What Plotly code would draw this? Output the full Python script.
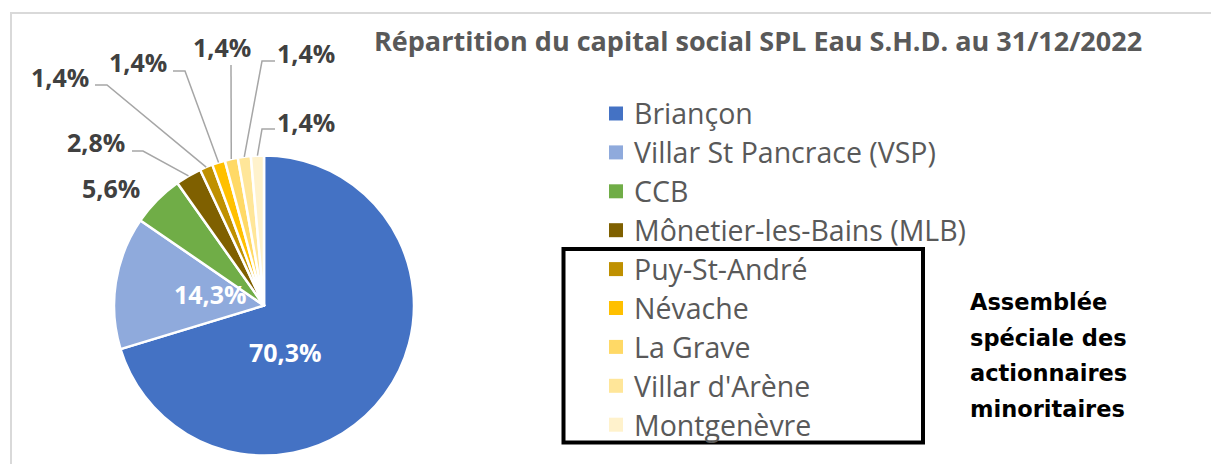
import math
import plotly.graph_objects as go

# ---------------- data ----------------
categories = [
    "Briançon",
    "Villar St Pancrace (VSP)",
    "CCB",
    "Mônetier-les-Bains (MLB)",
    "Puy-St-André",
    "Névache",
    "La Grave",
    "Villar d'Arène",
    "Montgenèvre",
]
shares = [70.3, 14.3, 5.6, 2.8, 1.4, 1.4, 1.4, 1.4, 1.4]
colors = ["#4472C4", "#8FAADC", "#70AD47", "#7F6000", "#BF9000",
          "#FFC000", "#FFD966", "#FFE699", "#FFF2CC"]
title_text = "Répartition du capital social SPL Eau S.H.D. au 31/12/2022"
note_lines = ["Assemblée", "spéciale des", "actionnaires", "minoritaires"]

# ---------------- layout helpers (pixels -> paper) ----------------
W, H = 1219, 464
OFF = 8  # page body margin
CX, CY, R = 264, 305.5, 150


def px(x):
    return (x - OFF) / W


def py(y):
    return 1 - (y - OFF) / H


# label centres (pixels) and leader line (start, elbow) per slice
label_pos = [(285, 352), (210, 294), (111, 188), (96, 142), (60, 77),
             (138, 62), (222, 47), (306, 53), (306, 122)]
leaders = [None, None, None,
           ((132, 151), (143, 151)),
           ((95, 85), (107, 85)),
           ((173, 71), (185, 71)),
           ((231, 65), (231, 65)),
           ((275, 61), (262, 61)),
           ((275, 129), (262, 129))]
label_colors = ["white", "white"] + ["#404040"] * 7

fig = go.Figure()
fig.add_trace(go.Pie(
    labels=categories,
    values=shares,
    sort=False,
    direction="clockwise",
    rotation=0,
    marker=dict(colors=colors, line=dict(color="white", width=2.5)),
    textinfo="none",
    hoverinfo="label+percent",
    showlegend=False,
    domain=dict(x=[px(CX - R), px(CX + R)], y=[py(CY + R), py(CY - R)]),
))

shapes = []
annotations = []

# frame
shapes.append(dict(type="rect", xref="paper", yref="paper",
                   x0=px(11), y0=py(13), x1=px(1300), y1=py(520),
                   line=dict(color="#D9D9D9", width=2)))

# percentage labels + leader lines
total = sum(shares)
cum = 0.0
for i, v in enumerate(shares):
    mid = (cum + v / 2) / total
    cum += v
    theta = 2 * math.pi * mid
    ax = CX + R * math.sin(theta)
    ay = CY - R * math.cos(theta)
    txt = ("%.1f" % v).replace(".", ",") + "%"
    lx, ly = label_pos[i]
    annotations.append(dict(x=px(lx), y=py(ly), xref="paper", yref="paper",
                            text="<b>%s</b>" % txt, showarrow=False,
                            xanchor="center", yanchor="middle",
                            font=dict(family="Open Sans", size=25,
                                      color=label_colors[i])))
    if leaders[i] is not None:
        (sx, sy), (ex, ey) = leaders[i]
        path = "M %f %f L %f %f L %f %f" % (px(sx), py(sy), px(ex), py(ey),
                                             px(ax), py(ay))
        shapes.append(dict(type="path", xref="paper", yref="paper", path=path,
                           line=dict(color="#A6A6A6", width=1.5)))

# legend (custom, built from categories / colors)
for i, (cat, col) in enumerate(zip(categories, colors)):
    yc = 113.5 + i * 38.9
    shapes.append(dict(type="rect", xref="paper", yref="paper",
                       x0=px(609), x1=px(623), y0=py(yc - 7), y1=py(yc + 7),
                       fillcolor=col, line=dict(width=0)))
    annotations.append(dict(x=px(632), y=py(yc), xref="paper", yref="paper",
                            text=cat, showarrow=False,
                            xanchor="left", yanchor="middle",
                            font=dict(family="Open Sans", size=28.5,
                                      color="#595959")))

# black box around minority shareholders
shapes.append(dict(type="rect", xref="paper", yref="paper",
                   x0=px(563.5), x1=px(923), y0=py(442.5), y1=py(249),
                   line=dict(color="black", width=4)))

# note text
for j, line in enumerate(note_lines):
    annotations.append(dict(x=px(968), y=py(302 + j * 35.5), xref="paper",
                            yref="paper", text="<b>%s</b>" % line,
                            showarrow=False, xanchor="left", yanchor="middle",
                            font=dict(family="DejaVu Sans", size=22.5,
                                      color="black")))

# title
annotations.append(dict(x=px(758), y=py(40), xref="paper", yref="paper",
                        text="<b>%s</b>" % title_text, showarrow=False,
                        xanchor="center", yanchor="middle",
                        font=dict(family="Open Sans", size=27,
                                  color="#595959")))

fig.update_layout(
    width=W, height=H,
    margin=dict(l=0, r=0, t=0, b=0),
    paper_bgcolor="white",
    plot_bgcolor="white",
    shapes=shapes,
    annotations=annotations,
)

fig.write_html("out.html")
